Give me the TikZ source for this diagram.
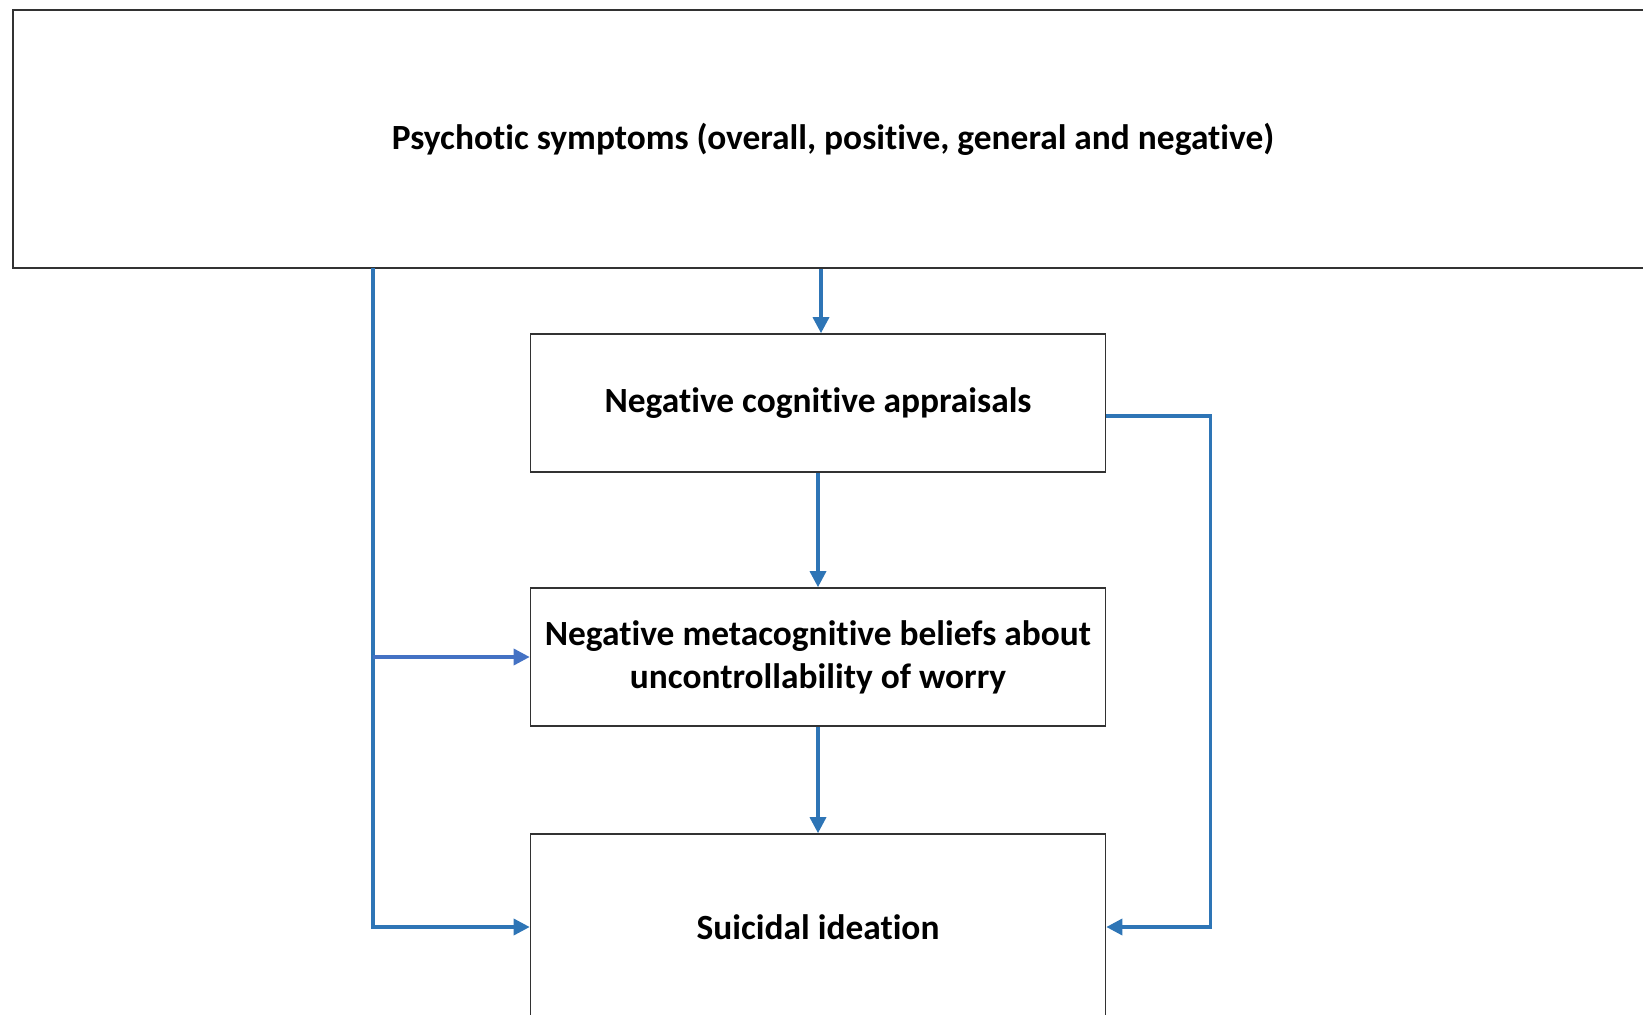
\documentclass[tikz,border=0pt]{standalone}
\usepackage{fontspec}
\setmainfont{Carlito}[Ligatures={NoCommon}]
\usepackage{xcolor}
\usetikzlibrary{arrows, arrows.meta}
\usetikzlibrary{positioning, calc}

\definecolor{lineblue}{RGB}{46,117,182}
\definecolor{sideblue}{RGB}{68,114,196}
\definecolor{boxgray}{RGB}{50,50,50}

\tikzset{
  block/.style={draw=boxgray, line width=0.8pt, fill=white, align=center,
    font=\bfseries\fontsize{17.7}{21.5}\selectfont, inner sep=0pt},
  link/.style={draw=lineblue, line width=1.7pt, -{Triangle[length=8pt, width=8pt]}}
}

\begin{document}
\begin{tikzpicture}[x=0.5pt, y=-0.5pt]
      \useasboundingbox (0, 0) rectangle (1643, 1015);
      \clip (0, 0) rectangle (1643, 1015);

      \node[block, minimum width=820pt, minimum height=129.25pt] (symptoms) at (833, 139) {Psychotic symptoms (overall, positive, general and negative)};
      \node[block, minimum width=287.5pt, minimum height=69pt] (appraisals) at (818, 403) {Negative cognitive appraisals};
      \node[block, minimum width=287.5pt, minimum height=69pt] (beliefs) at (818, 657) {Negative metacognitive beliefs about\\uncontrollability of worry};
      \node[block, minimum width=287.5pt, minimum height=93pt] (ideation) at (818, 927) {Suicidal ideation};

      \coordinate (left) at (373, 268);

      \draw[link] (symptoms.south -| 821, 0) -- (appraisals.north -| 821, 0);
      \draw[link] (appraisals) -- (beliefs);
      \draw[link] (beliefs) -- (ideation);

      \draw[link] (left) |- (ideation.west);
      \draw[link, draw=sideblue, fill=sideblue] (left |- beliefs.west) -- (beliefs.west);

      \draw[link] ([yshift=-6.5pt]appraisals.east) -- ++(52pt, 0) |- (ideation.east);

    \end{tikzpicture}
\end{document}
